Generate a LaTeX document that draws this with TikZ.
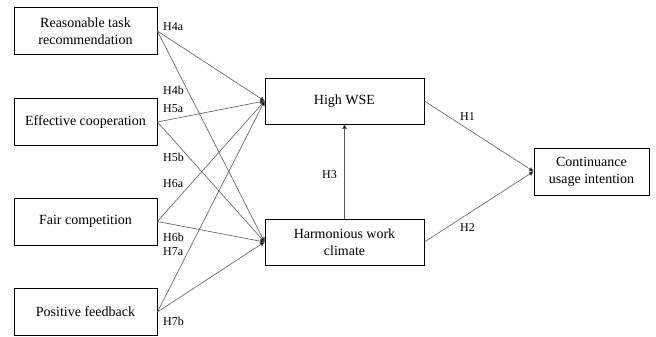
\documentclass[tikz,border=0pt]{standalone}
\usepackage{fontspec}
\setmainfont{Liberation Serif}
\usetikzlibrary{arrows.meta}

\tikzset{
    box/.style={draw, line width=0.8pt, minimum width=143pt, minimum height=47pt, align=center, font=\fontsize{14}{17}\selectfont},
    midbox/.style={box, minimum width=159pt, minimum height=46pt},
    endbox/.style={box, minimum width=115pt, minimum height=47pt},
    path/.style={draw=black!65, line width=0.6pt, -{Triangle[length=4.5pt,width=4.5pt,fill=black]}},
    hyp/.style={anchor=west, inner sep=0pt, font=\fontsize{12}{14}\selectfont}
}

\begin{document}
\begin{tikzpicture}[x=1pt,y=-1pt]
        \useasboundingbox (0,0) rectangle (656,337);

        % left column
        \node[box] (task) at (85.5,31) {Reasonable task\\recommendation};
        \node[box] (coop) at (85.5,122) {Effective cooperation};
        \node[box] (comp) at (85.5,221.5) {Fair competition};
        \node[box] (feed) at (85.5,312) {Positive feedback};

        % middle column
        \node[midbox] (wse) at (344.5,101) {High WSE};
        \node[midbox] (climate) at (344.5,242) {Harmonious work\\climate};

        % right
        \node[endbox] (intent) at (591.5,171.5) {Continuance\\usage intention};

        \draw[path] (task.east) -- (wse.west);
        \draw[path] (task.east) -- (climate.west);
        \draw[path] (coop.east) -- (wse.west);
        \draw[path] (coop.east) -- (climate.west);
        \draw[path] (comp.east) -- (wse.west);
        \draw[path] (comp.east) -- (climate.west);
        \draw[path] (feed.east) -- (wse.west);
        \draw[path] (feed.east) -- (climate.west);
        \draw[path] (climate.north) -- (wse.south);
        \draw[path] (wse.east) -- (intent.west);
        \draw[path] (climate.east) -- (intent.west);

        \node[hyp] (h4a) at (163,27) {H4a};
        \node[hyp] (h4b) at (163,90) {H4b};
        \node[hyp] (h5a) at (163,109) {H5a};
        \node[hyp] (h5b) at (163,157) {H5b};
        \node[hyp] (h6a) at (163,184) {H6a};
        \node[hyp] (h6b) at (163,237) {H6b};
        \node[hyp] (h7a) at (163,252) {H7a};
        \node[hyp] (h7b) at (163,321) {H7b};
        \node[hyp] (h3) at (322,175) {H3};
        \node[hyp] (h1) at (460,117) {H1};
        \node[hyp] (h2) at (460,228) {H2};

    \end{tikzpicture}
\end{document}
